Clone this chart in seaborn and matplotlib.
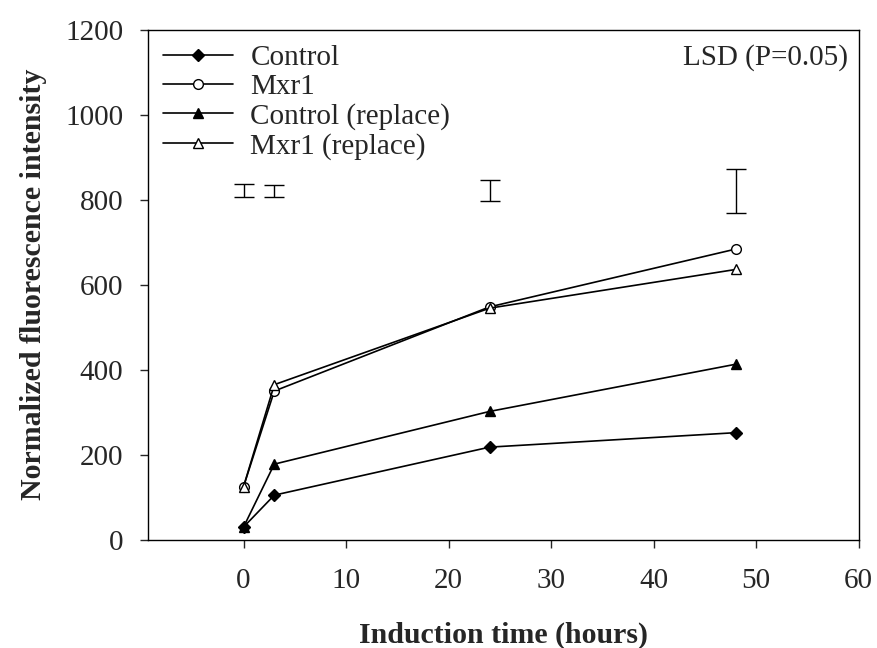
import pandas as pd
import matplotlib
matplotlib.use('Agg')
import matplotlib.pyplot as plt
import seaborn as sns

hours = [0, 3, 24, 48]
control = [30, 105, 218, 252]
mxr1 = [125, 350, 548, 684]
control_replace = [30, 178, 302, 413]
mxr1_replace = [125, 365, 545, 636]

lsd_x = [0, 3, 24, 48]
lsd_center = [822, 821, 822, 820]
lsd_half = [15, 14, 24, 52]

sns.set_style('ticks')
plt.rcParams['font.family'] = ['Liberation Serif', 'DejaVu Serif']

fig, ax = plt.subplots(figsize=(8.77, 6.48), dpi=100)

series = [
    ('Control', control, 'D', 'black', 6),
    ('Mxr1', mxr1, 'o', 'white', 7),
    ('Control (replace)', control_replace, '^', 'black', 7),
    ('Mxr1 (replace)', mxr1_replace, '^', 'white', 7),
]
for name, vals, mk, fc, ms in series:
    df = pd.DataFrame({'hours': hours, 'value': vals})
    sns.lineplot(data=df, x='hours', y='value', ax=ax, color='black', lw=1.2,
                 marker=mk, markerfacecolor=fc, markeredgecolor='black',
                 markersize=ms, markeredgewidth=1.0, label=name)

ax.errorbar(lsd_x, lsd_center, yerr=lsd_half, fmt='none', ecolor='black',
            elinewidth=1.0, capsize=7, capthick=1.0)

ax.set_xlim(-9.3, 60)
ax.set_ylim(0, 1200)
ax.set_xticks(range(0, 61, 10))
ax.set_yticks(range(0, 1201, 200))
ax.tick_params(axis='both', labelsize=21, direction='out', length=6, width=1)
ax.tick_params(axis='x', pad=14)
ax.tick_params(axis='y', pad=12)
for s in ax.spines.values():
    s.set_linewidth(1.0)
    s.set_color('black')

ax.set_xlabel('Induction time (hours)', fontsize=21.5, fontweight='bold', labelpad=20)
ax.set_ylabel('Normalized fluorescence intensity', fontsize=21.5, fontweight='bold', labelpad=13)

ax.text(0.985, 0.945, 'LSD (P=0.05)', transform=ax.transAxes, ha='right', va='center', fontsize=21)

leg = ax.legend(loc='upper left', frameon=False, fontsize=21, handlelength=2.4,
                labelspacing=0.1, borderaxespad=0.2, handletextpad=0.6,
                borderpad=0.3)

plt.subplots_adjust(left=0.169, right=0.979, top=0.954, bottom=0.167)
plt.savefig('out.png', dpi=100)
